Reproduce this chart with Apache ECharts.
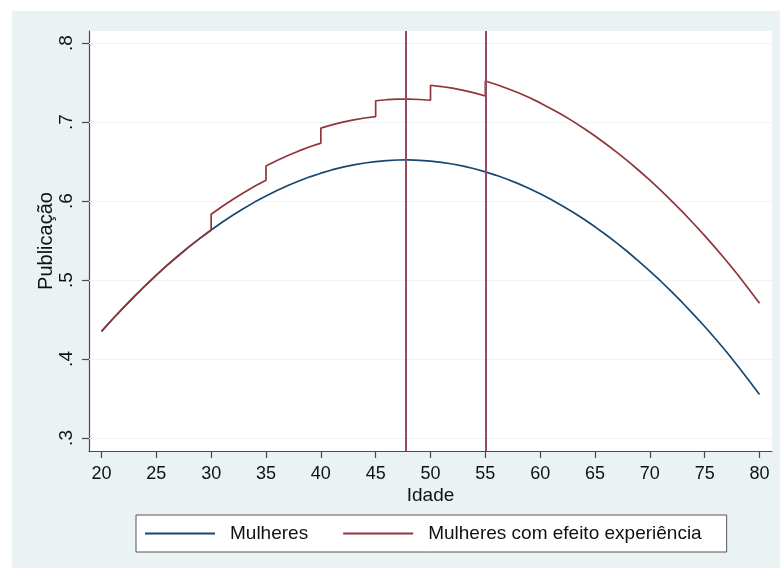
<!DOCTYPE html>
<html>
<head>
<meta charset="utf-8">
<script src="https://cdn.jsdelivr.net/npm/echarts@6/dist/echarts.min.js"></script>
<style>
html,body{margin:0;padding:0;background:#ffffff;width:781px;height:568px;overflow:hidden;}
#chart{position:absolute;left:12px;top:11px;width:768px;height:557px;}
</style>
</head>
<body>
<div id="chart"></div>
<script>
// Tick values and labels
const xTicks = [20,25,30,35,40,45,50,55,60,65,70,75,80];
const yTicks = [0.3,0.4,0.5,0.6,0.7,0.8];
const yTickLabels = ['.3','.4','.5','.6','.7','.8'];
const vLines = [47.7, 55];

// Series names
const seriesNames = ['Mulheres','Mulheres com efeito experiência'];

// Mulheres (blue curve)
const blueAges = [20,21,22,23,24,25,26,27,28,29,30,31,32,33,34,35,36,37,38,39,40,41,42,43,44,45,46,47,48,49,50,51,52,53,54,55,56,57,58,59,60,61,62,63,64,65,66,67,68,69,70,71,72,73,74,75,76,77,78,79,80];
const blueVals = [0.4349,0.4503,0.4651,0.4793,0.4930,0.5062,0.5187,0.5307,0.5422,0.5530,
  0.5633,0.5731,0.5822,0.5908,0.5989,0.6064,0.6133,0.6196,0.6254,0.6306,
  0.6352,0.6393,0.6428,0.6457,0.6481,0.6499,0.6512,0.6519,0.6520,0.6515,
  0.6505,0.6489,0.6468,0.6441,0.6408,0.6369,0.6325,0.6275,0.6220,0.6159,
  0.6092,0.6019,0.5941,0.5858,0.5768,0.5673,0.5572,0.5466,0.5354,0.5236,
  0.5113,0.4984,0.4849,0.4709,0.4562,0.4411,0.4253,0.4088,0.3915,0.3735,0.3550];

// Mulheres com efeito experiência (red curve, with steps)
const redAges = [20,21,22,23,24,25,26,27,28,29,
  30,30,31,32,33,34,35,35,36,37,38,39,40,40,41,42,43,44,45,45,46,47,48,49,50,50,51,52,53,54,55,55,
  56,57,58,59,60,61,62,63,64,65,66,67,68,69,70,71,72,73,74,75,76,77,78,79,80];
const redVals = [0.4349,0.4503,0.4651,0.4793,0.4930,0.5062,0.5187,0.5307,0.5422,0.5530,
  0.5633,0.5833,0.5931,0.6022,0.6108,0.6189,0.6264,
  0.6444,0.6513,0.6576,0.6634,0.6686,0.6732,
  0.6922,0.6963,0.6998,0.7027,0.7051,0.7069,
  0.7269,0.7282,0.7289,0.7290,0.7285,0.7275,
  0.7465,0.7449,0.7428,0.7401,0.7368,0.7329,
  0.7519,0.7475,0.7425,0.7370,0.7309,0.7242,0.7169,0.7091,0.7008,0.6918,0.6823,
  0.6722,0.6616,0.6504,0.6386,0.6263,0.6134,0.5999,0.5859,0.5712,0.5561,
  0.5403,0.5240,0.5070,0.4890,0.4705];

const BLUE = '#1a476f';
const RED = '#90353b';
const VLINE = '#944a64';
const AXIS = '#4a4a4a';
const FONT = 'Liberation Sans, Arial, sans-serif';

const chart = echarts.init(document.getElementById('chart'), null, {renderer:'canvas'});
chart.setOption({
  backgroundColor: '#eaf2f3',
  animation: false,
  textStyle: {fontFamily: FONT},
  grid: {left: 77, right: 8, top: 20, bottom: 117, show: true, backgroundColor: '#ffffff', borderWidth: 0, containLabel: false},
  xAxis: {
    type: 'value', min: 18.862, max: 81.138,
    name: 'Idade', nameLocation: 'middle', nameGap: 35, nameMoveOverlap: false,
    nameTextStyle: {fontSize: 19, color: '#111', fontFamily: FONT},
    axisLine: {show: true, onZero: false, lineStyle: {color: AXIS, width: 1.2}},
    axisTick: {show: true, length: 7, lineStyle: {color: AXIS, width: 1.2}, customValues: xTicks},
    axisLabel: {fontSize: 18, color: '#111', margin: 14, customValues: xTicks, fontFamily: FONT},
    splitLine: {show: false}
  },
  yAxis: {
    type: 'value', min: 0.2835, max: 0.8152,
    name: 'Publicação', nameLocation: 'middle', nameGap: 33, nameMoveOverlap: false,
    nameTextStyle: {fontSize: 20, color: '#111', fontFamily: FONT},
    axisLine: {show: true, onZero: false, lineStyle: {color: AXIS, width: 1.2}},
    axisTick: {show: true, length: 7, lineStyle: {color: AXIS, width: 1.2}, customValues: yTicks},
    axisLabel: {fontSize: 19, color: '#111', margin: 13, rotate: 90, customValues: yTicks, fontFamily: FONT,
      formatter: function (v) { const i = yTicks.findIndex(t => Math.abs(t - v) < 1e-6); return i >= 0 ? yTickLabels[i] : ''; }},
    splitLine: {show: false}
  },
  legend: {
    left: 124, top: 504,
    padding: [9, 25, 9, 9],
    itemGap: 35, itemWidth: 70, itemHeight: 2,
    backgroundColor: '#ffffff', borderColor: '#555', borderWidth: 1,
    textStyle: {fontSize: 19, color: '#111', fontFamily: FONT, padding: [0,0,0,10]},
    data: [
      {name: seriesNames[0], icon: 'rect', itemStyle: {color: BLUE}},
      {name: seriesNames[1], icon: 'rect', itemStyle: {color: RED}}
    ]
  },
  series: [
    {
      name: seriesNames[0], type: 'line', symbol: 'none', smooth: false,
      color: BLUE, lineStyle: {color: BLUE, width: 1.7}, z: 3,
      data: blueAges.map((a, i) => [a, blueVals[i]]),
      markLine: {
        silent: true, symbol: 'none', label: {show: false}, animation: false, z: 1,
        lineStyle: {color: '#eef3f5', width: 1.2, type: 'solid'},
        data: yTicks.map(t => ({yAxis: t}))
      }
    },
    {
      name: seriesNames[1], type: 'line', symbol: 'none', smooth: false,
      color: RED, lineStyle: {color: RED, width: 1.7}, z: 4,
      data: redAges.map((a, i) => [a, redVals[i]]),
      markLine: {
        silent: true, symbol: 'none', label: {show: false}, animation: false,
        lineStyle: {color: VLINE, width: 2, type: 'solid'},
        data: vLines.map(v => ({xAxis: v}))
      }
    }
  ]
});
</script>
</body>
</html>
